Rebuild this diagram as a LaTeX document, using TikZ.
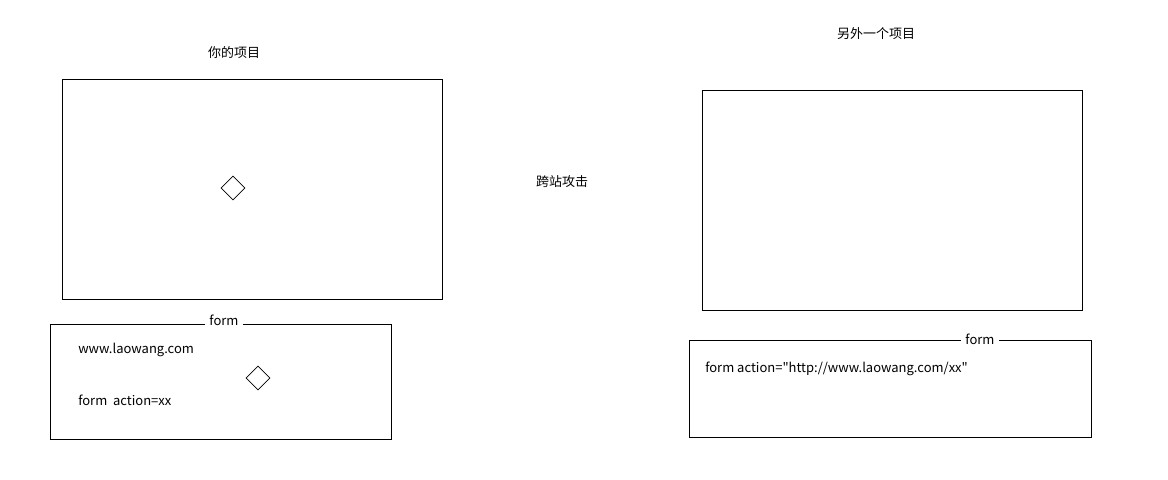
\documentclass[tikz,border=0pt]{standalone}
\usepackage{fontspec}
\setmainfont{Noto Sans CJK SC}[Ligatures=TeXOff]
\usetikzlibrary{shapes.geometric}
\begin{document}
\begin{tikzpicture}[x=0.75pt,y=-0.75pt,
  box/.style={draw=black,line width=0.75pt,inner sep=0pt},
  gem/.style={draw=black,line width=0.6pt,diamond,inner sep=0pt,minimum width=18pt,minimum height=18pt,aspect=1},
  txt/.style={font=\fontsize{9.75pt}{11pt}\selectfont,inner sep=0pt,text=black},
  legend/.style={txt,fill=white,inner xsep=3pt,inner ysep=1pt}]
\useasboundingbox (0,0) rectangle (1168,479);
\node[box,minimum width=285pt,minimum height=165pt] (proj) at (252,189) {};
\node[box,minimum width=255.75pt,minimum height=86.25pt] (form1) at (220.5,381.5) {};
\node[box,minimum width=285pt,minimum height=165pt] (other) at (892,200) {};
\node[box,minimum width=301.5pt,minimum height=72.75pt] (form2) at (890,388.5) {};
\node[gem] (d1) at (233,188) {};
\node[gem] (d2) at (258,378) {};
\node[txt] (t1) at (234,53) {你的项目};
\node[txt] (t2) at (876,34) {另外一个项目};
\node[txt] (t3) at (562,182) {跨站攻击};
\node[legend] (l1) at (224,320) {form};
\node[legend] (l2) at (980,339) {form};
\node[txt,anchor=west] (a1) at (78,350) {www.laowang.com};
\node[txt,anchor=west] (a2) at (78,400) {form\ \ action=xx};
\node[txt,anchor=west] (a3) at (705,369) {form action="http://www.laowang.com/xx"};
\end{tikzpicture}
\end{document}
